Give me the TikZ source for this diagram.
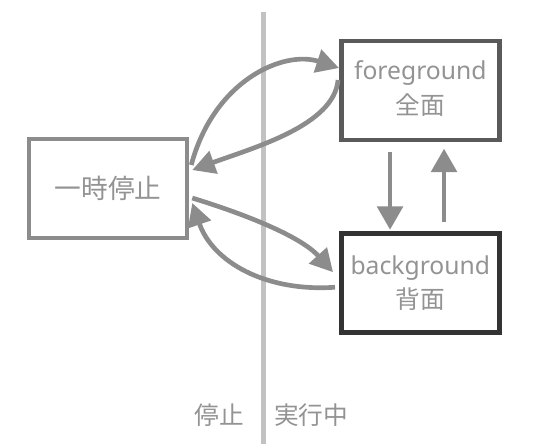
\documentclass[tikz,border=0pt]{standalone}
\usepackage{fontspec}
\setmainfont{Noto Sans}
\newfontfamily\jpfont{Noto Sans CJK JP}
\usetikzlibrary{arrows.meta,positioning}

\definecolor{arrgray}{HTML}{8C8C8C}
\definecolor{txtgray}{HTML}{939393}
\definecolor{fgedge}{HTML}{5A5A5A}
\definecolor{bgedge}{HTML}{333333}
\definecolor{linegray}{HTML}{C2C2C2}

\begin{document}
\begin{tikzpicture}[>={Triangle[length=17pt,width=17.5pt]},x=0.75pt,y=0.75pt,node distance=66.75pt,
    stbox/.style={draw,line width=3.4pt,minimum width=118.5pt,minimum height=74.25pt,inner sep=0pt,
                  text=txtgray,align=center,font=\fontsize{18.5}{27}\selectfont},
    side/.style={text=txtgray,font=\jpfont\fontsize{18.5}{22}\selectfont},
    move/.style={->,color=arrgray,line width=3.5pt},
    swap/.style={-{Triangle[length=17.5pt,width=19pt]}}]

                \useasboundingbox (0,0) rectangle (559,447);

                \coordinate (top) at (263,435.3);
                \coordinate (bot) at (263,3.3);
                \draw[linegray,line width=3.75pt] (top) -- (bot);

                \node[stbox,draw=arrgray,font=\jpfont\fontsize{20}{24}\selectfont] (p) at (108,258.3) {一時停止};
                \node[stbox,draw=fgedge] (fg) at (420.3,356.3) {foreground\\[-1pt]{\jpfont 全面}\\[-22pt]};
                \node[stbox,draw=bgedge] (bg) [below=of fg] {background\\[-1pt]{\jpfont 背面}};

                \node[side] (stop) at (219,32) {停止};
                \node[side] (run) at (311,32) {実行中};

                \path[move] ([xshift=1.5pt,yshift=17.8pt]p.east) edge [out=75,in=162,out distance=66pt,in distance=43.5pt] ([yshift=17pt]fg.west)
                            ([xshift=-0.75pt,yshift=8pt]fg.west) edge [out=265,in=20,out distance=34pt,in distance=49.5pt] ([xshift=2.25pt,yshift=14pt]p.east)
                            ([xshift=2.25pt,yshift=-7pt]p.east) edge [out=343,in=132,out distance=37pt,in distance=37.5pt] ([xshift=-4.5pt,yshift=8.25pt]bg.west)
                            ([xshift=-3pt,yshift=-3pt]bg.west) edge [out=184,in=289,out distance=52.5pt,in distance=46.5pt] ([xshift=2.25pt,yshift=-10.7pt]p.east);

                \path[move,swap] ([xshift=-22.7pt,yshift=-7.3pt]fg.south) edge ([xshift=-22.7pt,yshift=1.3pt]bg.north)
                                 ([xshift=17.8pt,yshift=7pt]bg.north) edge ([xshift=17.8pt,yshift=-4.7pt]fg.south);

            \end{tikzpicture}
\end{document}
